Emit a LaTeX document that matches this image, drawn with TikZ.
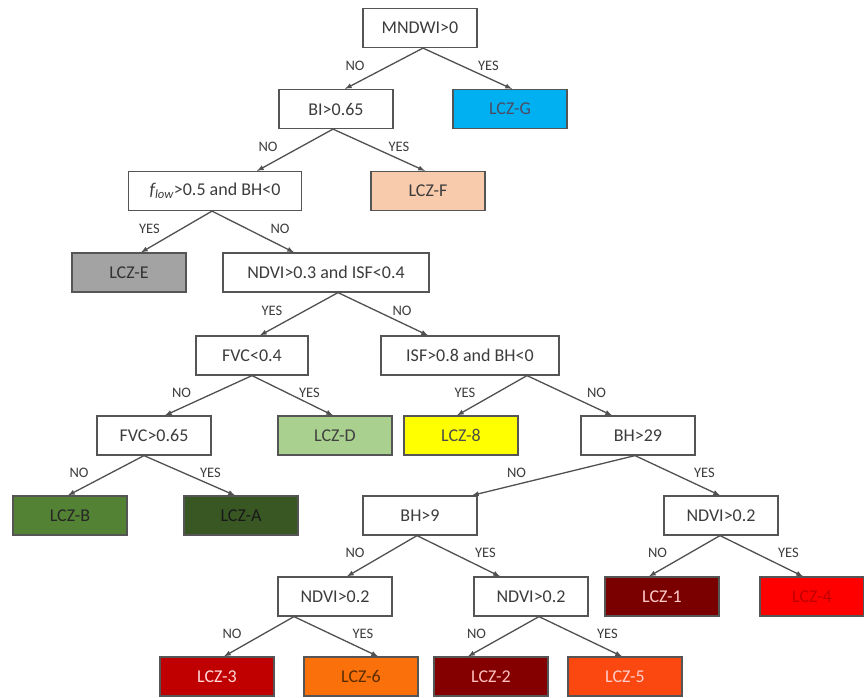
\documentclass[tikz,border=0pt]{standalone}
\usepackage{fontspec}
\setmainfont{Carlito}
\usepackage{xcolor}
\tikzset{>=latex}

\definecolor{boxline}{RGB}{85,85,85}
\definecolor{boxtext}{RGB}{60,60,60}
\definecolor{arrline}{RGB}{80,80,80}
\definecolor{lbltext}{RGB}{60,60,60}
\definecolor{lczG}{RGB}{0,176,240}
\definecolor{lczF}{RGB}{248,203,173}
\definecolor{lczE}{RGB}{163,163,163}
\definecolor{lczD}{RGB}{169,208,142}
\definecolor{lczEight}{RGB}{255,255,0}
\definecolor{lczB}{RGB}{84,130,53}
\definecolor{lczA}{RGB}{56,87,35}
\definecolor{lczOne}{RGB}{122,0,0}
\definecolor{lczFour}{RGB}{255,0,0}
\definecolor{lczThree}{RGB}{192,0,0}
\definecolor{lczSix}{RGB}{250,112,10}
\definecolor{lczTwo}{RGB}{132,0,0}
\definecolor{lczFive}{RGB}{250,72,16}

\begin{document}
\begin{tikzpicture}[x=1pt,y=-1pt,
    box/.style={draw=boxline,line width=1.2pt,fill=white,text=boxtext,minimum width=114pt,minimum height=39pt,inner sep=0pt,font=\fontsize{18}{20}\selectfont},
    leaf/.style 2 args={box,fill=#1,text=#2},
    arr/.style={->,draw=arrline,line width=1.3pt},
    lbl/.style={midway,yshift=3pt,inner sep=0pt,text=lbltext,font=\fontsize{14.5}{16}\selectfont},
    lblL/.style={lbl,xshift=-27pt},
    lblR/.style={lbl,xshift=27pt}]
    \useasboundingbox (0,0) rectangle (864,698);
    % decision nodes
    \node[box] (mndwi) at (420,28) {MNDWI>0};
    \node[box] (bi) at (336,109) {BI>0.65};
    \node[box,minimum width=173pt] (flow) at (215,191) {\textit{f\textsubscript{low}}>0.5 and BH<0};
    \node[box,minimum width=206pt] (ndvia) at (326,272.5) {NDVI>0.3 and ISF<0.4};
    \node[box,minimum width=112pt] (fvca) at (252,355.5) {FVC<0.4};
    \node[box,minimum width=178pt] (isf) at (470,355.5) {ISF>0.8 and BH<0};
    \node[box] (fvcb) at (154,435.5) {FVC>0.65};
    \node[box] (bha) at (638,435.5) {BH>29};
    \node[box] (bhb) at (420,515.5) {BH>9};
    \node[box] (ndvir) at (721,515.5) {NDVI>0.2};
    \node[box] (ndvil) at (335,596.5) {NDVI>0.2};
    \node[box] (ndvim) at (531,596.5) {NDVI>0.2};
    % classes
    \node[leaf={lczG}{black!75!blue!40!gray}] (lczg) at (510,109) {LCZ-G};
    \node[leaf={lczF}{boxtext}] (lczf) at (428,191) {LCZ-F};
    \node[leaf={lczE}{black!80}] (lcze) at (129,272.5) {LCZ-E};
    \node[leaf={lczD}{black!75}] (lczd) at (335,435.5) {LCZ-D};
    \node[leaf={lczEight}{black!70}] (lcz8) at (461,435.5) {LCZ-8};
    \node[leaf={lczB}{black!85}] (lczb) at (70,515.5) {LCZ-B};
    \node[leaf={lczA}{black!90}] (lcza) at (241,515.5) {LCZ-A};
    \node[leaf={lczOne}{red!20!white}] (lcz1) at (662,596.5) {LCZ-1};
    \node[leaf={lczFour}{red!75!black},minimum width=104pt] (lcz4) at (812,596.5) {LCZ-4};
    \node[leaf={lczThree}{red!15!white}] (lcz3) at (217,676.5) {LCZ-3};
    \node[leaf={lczSix}{black!65!orange}] (lcz6) at (361,676.5) {LCZ-6};
    \node[leaf={lczTwo}{red!25!white}] (lcz2) at (491,676.5) {LCZ-2};
    \node[leaf={lczFive}{red!20!white}] (lcz5) at (625,676.5) {LCZ-5};
    % arrows
    \draw[arr] ([xshift=3pt]mndwi.south) -- ([xshift=9pt]bi.north) node[lblL,xshift=-2pt] {NO};
    \draw[arr] ([xshift=3pt]mndwi.south) -- ([xshift=2pt]lczg.north) node[lblR,xshift=-6pt] {YES};
    \draw[arr] ([xshift=-3pt]bi.south) -- ([xshift=42pt]flow.north) node[lblL] {NO};
    \draw[arr] ([xshift=-3pt]bi.south) -- ([xshift=-3pt]lczf.north) node[lblR,xshift=-7pt] {YES};
    \draw[arr] ([xshift=-3pt]flow.south) -- ([xshift=12pt]lcze.north) node[lblL] {YES};
    \draw[arr] ([xshift=-3pt]flow.south) -- ([xshift=-32pt]ndvia.north) node[lblR] {NO};
    \draw[arr] ([xshift=12pt]ndvia.south) -- ([xshift=8pt]fvca.north) node[lblL] {YES};
    \draw[arr] ([xshift=12pt]ndvia.south) -- ([xshift=-42pt]isf.north) node[lblR,xshift=-8pt] {NO};
    \draw[arr] (fvca.south) -- ([xshift=11pt]fvcb.north) node[lblL] {NO};
    \draw[arr] (fvca.south) -- ([xshift=-2pt]lczd.north) node[lblR,xshift=-10pt] {YES};
    \draw[arr] ([xshift=57pt]isf.south) -- ([xshift=-4pt]lcz8.north) node[lblL] {YES};
    \draw[arr] ([xshift=57pt]isf.south) -- ([xshift=-26pt]bha.north) node[lblR] {NO};
    \draw[arr] ([xshift=-10pt]fvcb.south) -- ([xshift=-2pt]lczb.north) node[lblL] {NO};
    \draw[arr] ([xshift=-10pt]fvcb.south) -- ([xshift=-6pt]lcza.north) node[lblR,xshift=-6pt] {YES};
    \draw[arr] ([xshift=-3pt]bha.south) -- ([xshift=52pt]bhb.north) node[lblL,xshift=-10pt] {NO};
    \draw[arr] ([xshift=-3pt]bha.south) -- ([xshift=-1pt]ndvir.north) node[lblR] {YES};
    \draw[arr] ([xshift=-3pt]bhb.south) -- ([xshift=12pt]ndvil.north) node[lblL] {NO};
    \draw[arr] ([xshift=-3pt]bhb.south) -- ([xshift=-31pt]ndvim.north) node[lblR] {YES};
    \draw[arr] ([xshift=-1pt]ndvir.south) -- ([xshift=-13pt]lcz1.north) node[lblL] {NO};
    \draw[arr] ([xshift=-1pt]ndvir.south) -- ([xshift=-9pt]lcz4.north) node[lblR] {YES};
    \draw[arr] ([xshift=-41pt]ndvil.south) -- ([xshift=7pt]lcz3.north) node[lblL] {NO};
    \draw[arr] ([xshift=-41pt]ndvil.south) -- ([xshift=17pt]lcz6.north) node[lblR] {YES};
    \draw[arr] ([xshift=8pt]ndvim.south) -- ([xshift=-23pt]lcz2.north) node[lblL] {NO};
    \draw[arr] ([xshift=8pt]ndvim.south) -- ([xshift=-3pt]lcz5.north) node[lblR] {YES};
\end{tikzpicture}
\end{document}
